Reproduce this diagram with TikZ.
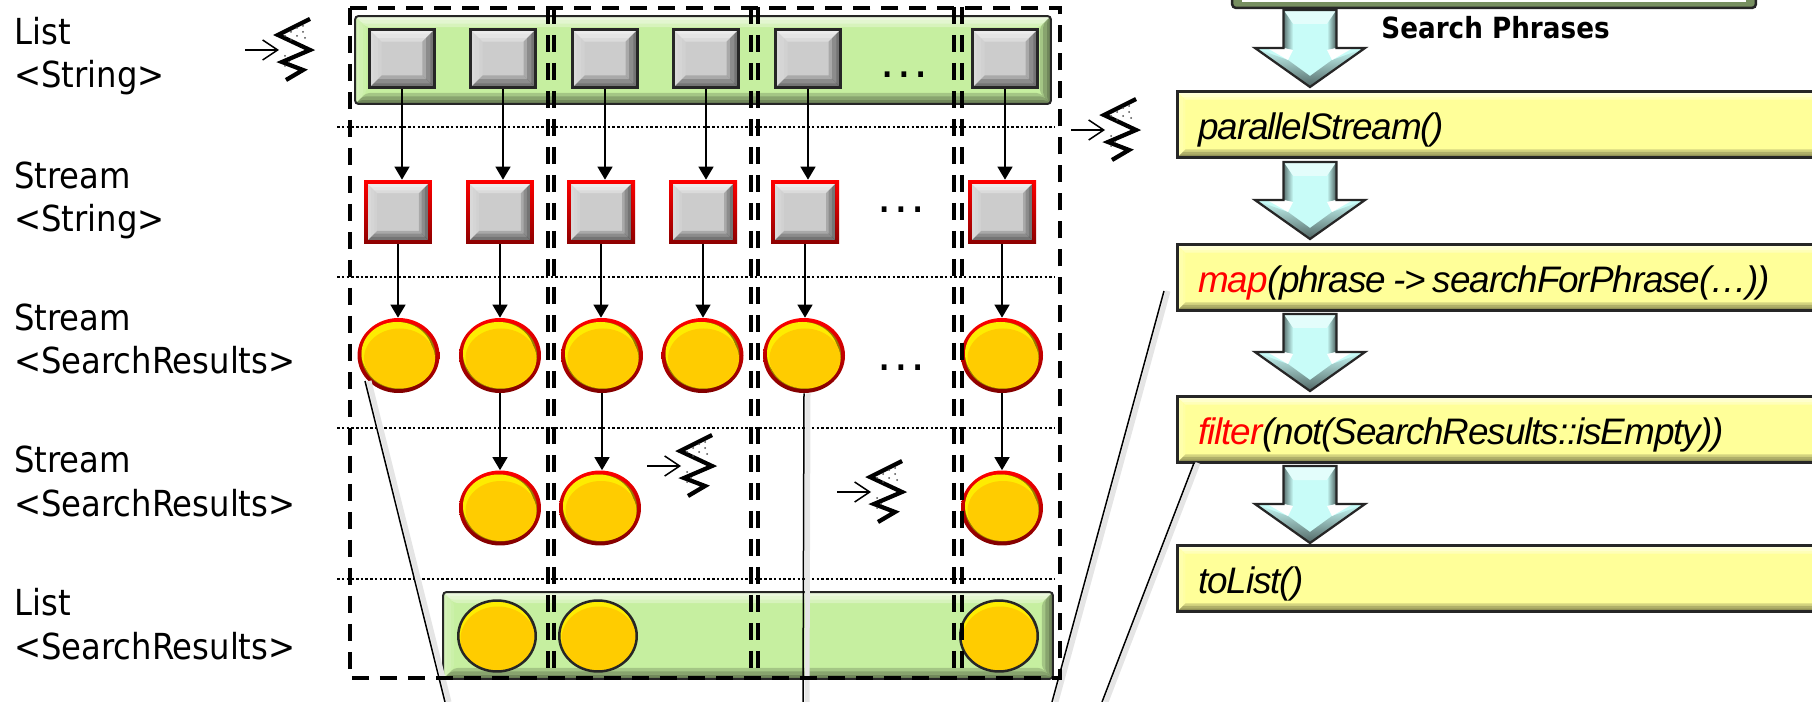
\documentclass[tikz,border=0pt]{standalone}
\usepackage{fontspec}
\usepackage{xcolor}
\usepackage{tikz}
\usetikzlibrary{arrows.meta,calc,shapes.geometric}
\setmainfont{DejaVu Sans Condensed}
\newfontfamily\codefont{Liberation Sans}[LetterSpace=-3]

\definecolor{itemgrey}{HTML}{CCCCCC}
\definecolor{bargreen}{HTML}{C6EFA0}
\definecolor{boxyellow}{HTML}{FFFF99}
\definecolor{gold}{HTML}{FFCC00}
\definecolor{paleaqua}{HTML}{C8FCF8}

% light and dark facets on the inside of a node
\newcommand{\facets}[2]{%
  \coordinate (fnw) at ($(path picture bounding box.north west)+(#1,#1)$);
  \coordinate (fse) at ($(path picture bounding box.south east)+(-#1,-#1)$);
  \foreach \w in {#2,0.7*#2,0.35*#2} {
    \coordinate (inw) at ($(fnw)+(\w,\w)$);
    \coordinate (ise) at ($(fse)-(\w,\w)$);
    \fill[white,opacity=0.3] (fnw) -- (fnw -| fse) -- (inw -| ise) -- (inw) -- cycle;
    \fill[white,opacity=0.1] (fnw) -- (fnw |- fse) -- (inw |- ise) -- (inw) -- cycle;
    \fill[black,opacity=0.17] (fse) -- (fnw -| fse) -- (inw -| ise) -- (ise) -- cycle;
    \fill[black,opacity=0.17] (fse) -- (fnw |- fse) -- (inw |- ise) -- (ise) -- cycle;
  }
}
\newcommand{\goldface}[2]{%
  \coordinate (mid) at (path picture bounding box.center);
  \fill[gold!60!black] (mid) ellipse (#1 and #2);
  \fill[yellow!85!gold] ($(mid)+(-1.5,-2)$) ellipse ({#1-1.5} and {#2-2});
  \fill[gold] ($(mid)+(1,3)$) ellipse ({#1-1.5} and {#2-3.5});
}
\newcommand{\etcdots}{.\kern.13cm.\kern.13cm.}

\tikzset{
  listbar/.style={draw=black!85,line width=.04cm,rounded corners=.07cm,fill=bargreen,
    inner sep=0pt,path picture={\facets{0}{11}}},
  greybox/.style={draw=black!85,line width=.06cm,fill=itemgrey,inner sep=0pt,
    minimum width=1.3cm,minimum height=1.16cm,path picture={\facets{0}{12}}},
  redbox/.style={top color=red,bottom color=red!55!black,inner sep=0pt,
    minimum width=1.36cm,minimum height=1.28cm,
    path picture={\fill[itemgrey] ($(path picture bounding box.north west)+(4,4)$)
      rectangle ($(path picture bounding box.south east)-(4,4)$); \facets{4}{9}}},
  redball/.style={ellipse,top color=red,bottom color=red!50!black,inner sep=0pt,
    minimum width=1.64cm,minimum height=1.5cm,path picture={\goldface{37}{33.5}}},
  blackball/.style={ellipse,draw=black!85,line width=.05cm,fill=gold,inner sep=0pt,
    minimum width=1.55cm,minimum height=1.42cm,path picture={\goldface{39}{36}}},
  opbox/.style={draw=black!85,line width=.05cm,fill=boxyellow,anchor=west,align=left,
    minimum width=14cm,minimum height=1.32cm,text width=13.5cm,inner xsep=.42cm,inner ysep=0pt,
    text height=.62cm,text depth=.02cm,
    font=\codefont\fontsize{21pt}{24pt}\selectfont\itshape,
    path picture={\facets{0}{8}}},
  rowlabel/.style={anchor=base west,align=left,inner sep=0pt,
    font=\fontsize{20.4pt}{24.75pt}\selectfont},
  dotnode/.style={anchor=base,inner sep=0pt,font=\fontsize{17pt}{20pt}\selectfont\bfseries},
  flow/.style={line width=.03cm,-{Triangle[length=.26cm,width=.3cm]}},
  callout/.style={line width=.03cm,preaction={draw=black!10,line width=.1cm,
    transform canvas={xshift=.08cm}}},
  rowline/.style={line width=.03cm,dash pattern=on .05cm off .045cm},
  dashline/.style={line width=.08cm,dash pattern=on .34cm off .22cm},
  pics/threadmark/.style={code={
    \draw[line width=.03cm,-{Straight Barb[length=.3cm,width=.4cm]}] (0,0) -- (34,0);
    \draw[line width=.085cm,miter limit=4] (65,-31) -- (33,-15) -- (65,0) -- (37,12) -- (58,20) -- (41,30);
    \foreach \a/\b in {40/-14,46/-18,52/-14,52/-22,58/-18,58/-24,60/-12,46/-10,40/6,44/12,40/16}
      \fill[black!70] (\a,\b) circle (.02cm);
  }},
  pics/bigarrow/.style={code={
    \fill[paleaqua] (-26.5,0) -- (26.5,0) -- (26.5,38) -- (55,38) -- (0,77) -- (-55,38) -- (-26.5,38) -- cycle;
    \fill[white,opacity=0.5] (-26.5,0) -- (26.5,0) -- (17,14) -- (-17,14) -- cycle;
    \shade[left color=black!55!paleaqua,right color=paleaqua] (-26.5,0) -- (-17,14) -- (-17,40) -- (-26.5,38) -- cycle;
    \shade[left color=paleaqua,right color=black!65!paleaqua] (26.5,0) -- (17,14) -- (17,40) -- (26.5,38) -- cycle;
    \shade[top color=paleaqua,bottom color=black!60!paleaqua] (-55,38) -- (-22,50) -- (0,66) -- (0,77) -- cycle;
    \shade[top color=paleaqua,bottom color=black!60!paleaqua] (55,38) -- (22,50) -- (0,66) -- (0,77) -- cycle;
    \fill[white] (-26.5,38) -- (-43,38) -- (-22,50) -- (-17,40) -- cycle;
    \fill[white] (26.5,38) -- (43,38) -- (22,50) -- (17,40) -- cycle;
    \draw[black!85,line width=.045cm,line join=miter] (-26.5,0) -- (26.5,0) -- (26.5,38) -- (55,38) -- (0,77) -- (-55,38) -- (-26.5,38) -- cycle;
  }}
}

\begin{document}
\begin{tikzpicture}[x=0.02cm,y=-0.02cm]
  \useasboundingbox (0,0) rectangle (1812,702);

  % row names on the left
  \node[rowlabel] (labela) at (14,88) {List\\<String>};
  \node[rowlabel] (labelb) at (14,232) {Stream\\<String>};
  \node[rowlabel] (labelc) at (14,374) {Stream\\<SearchResults>};
  \node[rowlabel] (labeld) at (14,516) {Stream\\<SearchResults>};
  \node[rowlabel] (labele) at (14,659) {List\\<SearchResults>};

  % the two lists
  \node[listbar,minimum width=13.92cm,minimum height=1.76cm] (listin) at (703,60) {};
  \node[listbar,minimum width=12.2cm,minimum height=1.74cm] (listout) at (748,635.5) {};

  \foreach \y in {127,277,428,579}
    \draw[rowline] (337,\y) -- (1055,\y);

  % one column per element
  \foreach \n/\x in {a/402,b/503,c/605,d/706,e/808,f/1005}
    \node[greybox] (s\n) at (\x,58.5) {};
  \foreach \n/\x in {a/398,b/500,c/601,d/703,e/805,f/1002}
    \node[redbox] (r\n) at (\x,212) {};
  \foreach \n/\x in {a/398.5,b/500,c/602,d/702.5,e/804,f/1002}
    \node[redball] (c\n) at (\x,355.5) {};
  \foreach \n/\x in {b/500,c/600,f/1002}
    \node[redball] (d\n) at (\x,508) {};
  \foreach \n/\x in {b/497,c/598,f/999}
    \node[blackball] (e\n) at (\x,636) {};

  \node[dotnode] (dotsa) at (904,77.5) {\etcdots};
  \node[dotnode] (dotsb) at (901,212.5) {\etcdots};
  \node[dotnode] (dotsc) at (901,370.5) {\etcdots};

  \foreach \n in {a,b,c,d,e,f} {
    \draw[flow] (s\n.south) -- (s\n.south |- r\n.north);
    \draw[flow] (r\n.south) -- (r\n.south |- c\n.north);
  }
  \foreach \n in {b,c,f} {
    \draw[flow] (c\n.south) -- (c\n.south |- d\n.north);
  }

  \pic at (245,50) {threadmark};
  \pic at (1071,130) {threadmark};
  \pic at (647,466) {threadmark};
  \pic at (837,492) {threadmark};

  % the pipeline on the right
  \node[draw=black!85,line width=.05cm,rounded corners=.08cm,fill=bargreen!60!black,inner sep=0pt,
    minimum width=10.48cm,minimum height=2cm] (source) at (1494,-42) {};
  \node[fill=white,inner sep=0pt,minimum width=10.1cm,minimum height=.2cm] (sourcetop) at (1494,-3) {};
  \node[anchor=base west,inner sep=0pt,font=\fontsize{16.6pt}{20pt}\selectfont\bfseries] (phrases) at (1381,39) {Search Phrases};

  \foreach \y in {10,162,314,466}
    \pic at (1310,\y) {bigarrow};

  \node[opbox] (parallel) at (1176,124.5) {parallelStream()};
  \node[opbox] (mapop) at (1176,277.5) {\textcolor{red}{map}(phrase\kern.14cm->\kern.14cm searchForPhrase(…))};
  \node[opbox] (filterop) at (1176,429.5) {\textcolor{red}{filter}(not(SearchResults::isEmpty))};
  \node[opbox] (tolist) at (1176,578.5) {toList()};

  % lines that lead out of the picture
  \coordinate (ballfoot) at (365,381);
  \coordinate (ballend) at (445,702);
  \coordinate (midend) at (803,702);
  \coordinate (mapfoot) at (1164,291);
  \coordinate (mapend) at (1052,702);
  \coordinate (filterfoot) at (1194,463);
  \coordinate (filterend) at (1102,702);
  \draw[callout] (ballfoot) -- (ballend);
  \draw[callout] (ce.south) -- (midend);
  \draw[callout] (mapfoot) -- (mapend);
  \draw[callout] (filterfoot) -- (filterend);

  % chunks of the spliterator
  \draw[dashline] (350,8) rectangle (1060,678);
  \foreach \x in {548,554,751,758,954,962}
    \draw[dashline] (\x,7) -- (\x,678);
\end{tikzpicture}
\end{document}
